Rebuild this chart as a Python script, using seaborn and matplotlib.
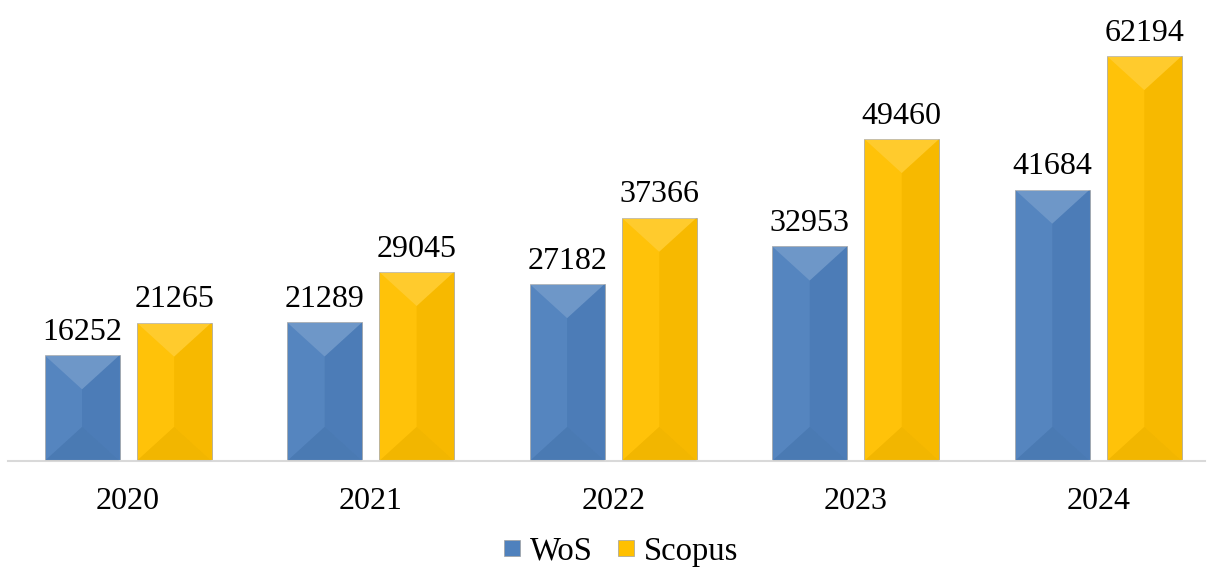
import numpy as np
import pandas as pd
import seaborn as sns
import matplotlib.pyplot as plt
from matplotlib.patches import Polygon

sns.set_theme(style="white")
plt.rcParams['font.family'] = ['Liberation Serif', 'DejaVu Serif']

years = ['2020', '2021', '2022', '2023', '2024']
wos = [16252, 21289, 27182, 32953, 41684]
scopus = [21265, 29045, 37366, 49460, 62194]
series_names = ['WoS', 'Scopus']
colors = ['#4F81BD', '#FFC000']

df = pd.DataFrame({
    'year': years * 2,
    'count': wos + scopus,
    'db': [series_names[0]] * len(years) + [series_names[1]] * len(years),
})

fig = plt.figure(figsize=(12.09, 5.73), dpi=100)
ax = fig.add_axes([8 / 1209, 112 / 573, 1197 / 1209, 461 / 573])

sns.barplot(data=df, x='year', y='count', hue='db', palette=colors,
            width=0.759, gap=0.185, ax=ax, legend=False, saturation=1)

# bevel-ish shading on each bar, using the patch geometry
for p in ax.patches:
    x, y, w, h = p.get_x(), p.get_y(), p.get_width(), p.get_height()
    if h <= 0:
        continue
    p.set_edgecolor('#a0a0a0')
    p.set_linewidth(0.5)
    top = y + h
    px_w = ax.transData.transform((x + w, 0))[0] - ax.transData.transform((x, 0))[0]
    d = ax.transData.inverted().transform((0, ax.transData.transform((0, 0))[1] + px_w / 2))[1]
    cx = x + w / 2
    ax.add_patch(Polygon([(x, top), (x + w, top), (cx, top - d)],
                         closed=True, color='white', alpha=0.18, lw=0, zorder=3))
    ax.add_patch(Polygon([(x, y), (x + w, y), (cx, y + d)],
                         closed=True, color='black', alpha=0.05, lw=0, zorder=3))
    ax.add_patch(Polygon([(x + w, top), (x + w, y), (cx, y + d), (cx, top - d)],
                         closed=True, color='black', alpha=0.03, lw=0, zorder=3))
    ax.add_patch(Polygon([(x, top), (x, y), (cx, y + d), (cx, top - d)],
                         closed=True, color='white', alpha=0.04, lw=0, zorder=3))

for c in ax.containers:
    ax.bar_label(c, fontsize=23, padding=6, color='black')

ax.set_ylim(0, 70790)
ax.set_xlim(-0.495, 4.44)
ax.set_xlabel('')
ax.set_ylabel('')
ax.set_yticks([])
ax.tick_params(axis='x', labelsize=23, pad=19, length=0, labelcolor='black')
for s in ['top', 'right', 'left']:
    ax.spines[s].set_visible(False)
ax.spines['bottom'].set_color('#d9d9d9')
ax.spines['bottom'].set_linewidth(1.5)

handles = [plt.Line2D([], [], marker='s', ls='', markersize=12,
                      markerfacecolor=col, markeredgecolor='#a0a0a0', markeredgewidth=0.5)
           for col in colors]
leg = fig.legend(handles, series_names, loc='lower center', bbox_to_anchor=(0.513, -0.04),
                 ncol=2, frameon=False, fontsize=23.5, handletextpad=0.25, columnspacing=0.7,
                 handlelength=0.6)
for t in leg.get_texts():
    t.set_color('black')

fig.savefig('out.png', dpi=100)
